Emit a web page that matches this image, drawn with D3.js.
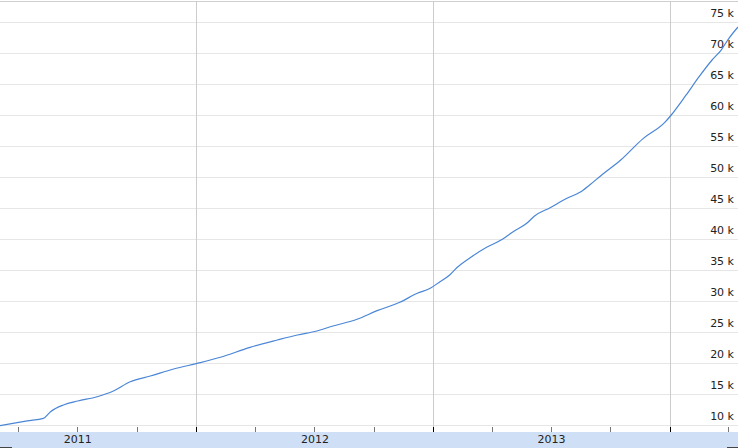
<!DOCTYPE html>
<html>
<head>
<meta charset="utf-8">
<script src="https://cdn.jsdelivr.net/npm/d3@7"></script>
<style>
  body { margin: 0; background: #fff; }
  svg { display: block; }
  text { font-family: "DejaVu Sans", Verdana, sans-serif; }
</style>
</head>
<body>
<svg id="chart" width="738" height="448"></svg>
<script>
// dates and running total
const dates = [
  "2011-03-04", "2011-04-15", "2011-05-10", "2011-05-21", "2011-06-10", "2011-07-02", "2011-08-01",
  "2011-08-26", "2011-09-21", "2011-10-22", "2011-11-27", "2012-01-07", "2012-02-07",
  "2012-03-24", "2012-05-05", "2012-06-05", "2012-07-05", "2012-07-30", "2012-09-05",
  "2012-10-06", "2012-11-10", "2012-12-07", "2012-12-27", "2013-01-11", "2013-01-26",
  "2013-02-06", "2013-03-01", "2013-03-24", "2013-04-18", "2013-05-04", "2013-05-25",
  "2013-06-06", "2013-06-30", "2013-07-26", "2013-08-15", "2013-08-30", "2013-09-19",
  "2013-10-17", "2013-11-20", "2013-12-24", "2014-01-03", "2014-01-26", "2014-02-15",
  "2014-03-07", "2014-03-21", "2014-04-02", "2014-04-16"
];
const values = [
  9890, 10660, 11080, 12150, 13230, 13870, 14560,
  15480, 16980, 17900, 19030, 20050, 20920,
  22530, 23710, 24520, 25160, 25970, 27050,
  28440, 29790, 31240, 32050, 33110, 34190,
  35370, 37150, 38660, 40000, 41180, 42530,
  43710, 45050, 46570, 47530, 48710, 50440,
  52740, 56150, 58800, 60000, 63230, 66180,
  68870, 70480, 72370, 74200
];
const yTicks = [10000, 15000, 20000, 25000, 30000, 35000, 40000, 45000, 50000, 55000, 60000, 65000, 70000, 75000];
const years = ["2011", "2012", "2013"];

const W = 738, H = 448;
const plotBottom = 432;
const parse = d3.timeParse("%Y-%m-%d");
const data = dates.map((d, i) => ({ date: parse(d), value: values[i] }));

const svg = d3.select("#chart");

const x = d3.scaleTime()
  .domain([parse("2011-03-04"), parse("2014-04-16")])
  .range([0, W]);
const y = d3.scaleLinear()
  .domain([10000, 75000])
  .range([425, 22]);

// horizontal grid
svg.append("g").selectAll("line")
  .data(yTicks)
  .join("line")
  .attr("x1", 0).attr("x2", W)
  .attr("y1", d => Math.round(y(d)) + 0.5)
  .attr("y2", d => Math.round(y(d)) + 0.5)
  .attr("stroke", "#e6e6e6");

// top border
svg.append("line")
  .attr("x1", 0).attr("x2", W).attr("y1", 1.5).attr("y2", 1.5)
  .attr("stroke", "#cfcfcf");

// year lines
const yearStarts = d3.timeYears(x.domain()[0], x.domain()[1]);
svg.append("g").selectAll("line")
  .data(yearStarts)
  .join("line")
  .attr("x1", d => Math.round(x(d)) + 0.5)
  .attr("x2", d => Math.round(x(d)) + 0.5)
  .attr("y1", 1).attr("y2", plotBottom)
  .attr("stroke", "#cccccc");

// the series
const line = d3.line()
  .curve(d3.curveMonotoneX)
  .x(d => x(d.date))
  .y(d => y(d.value));
svg.append("path")
  .datum(data)
  .attr("d", line)
  .attr("fill", "none")
  .attr("stroke", "#4a86d6")
  .attr("stroke-width", 1.2);

// value labels on the right
svg.append("g").selectAll("text")
  .data(yTicks)
  .join("text")
  .attr("x", 734)
  .attr("y", d => y(d) - 5)
  .attr("text-anchor", "end")
  .attr("font-size", 11)
  .attr("fill", "#222")
  .text(d => d / 1000 + " k");

// time axis band
svg.append("rect")
  .attr("x", 0).attr("y", plotBottom)
  .attr("width", W).attr("height", H - plotBottom)
  .attr("fill", "#cfe0f6");

// quarter ticks
const quarters = d3.timeMonth.every(3).range(x.domain()[0], x.domain()[1]);
svg.append("g").selectAll("line")
  .data(quarters)
  .join("line")
  .attr("x1", d => Math.round(x(d)) + 0.5)
  .attr("x2", d => Math.round(x(d)) + 0.5)
  .attr("y1", 427).attr("y2", plotBottom)
  .attr("stroke", d => d.getMonth() === 0 ? "#000" : "#777");

// year labels centred in each year
svg.append("g").selectAll("text")
  .data(years)
  .join("text")
  .attr("x", d => x(parse(d + "-07-02")))
  .attr("y", 443)
  .attr("text-anchor", "middle")
  .attr("font-size", 11)
  .attr("fill", "#222")
  .text(d => d);

// range handles at the bottom edge
svg.append("line").attr("x1", 0).attr("x2", 12).attr("y1", 447.5).attr("y2", 447.5).attr("stroke", "#444");
svg.append("line").attr("x1", 727).attr("x2", W).attr("y1", 447.5).attr("y2", 447.5).attr("stroke", "#444");
</script>
</body>
</html>
